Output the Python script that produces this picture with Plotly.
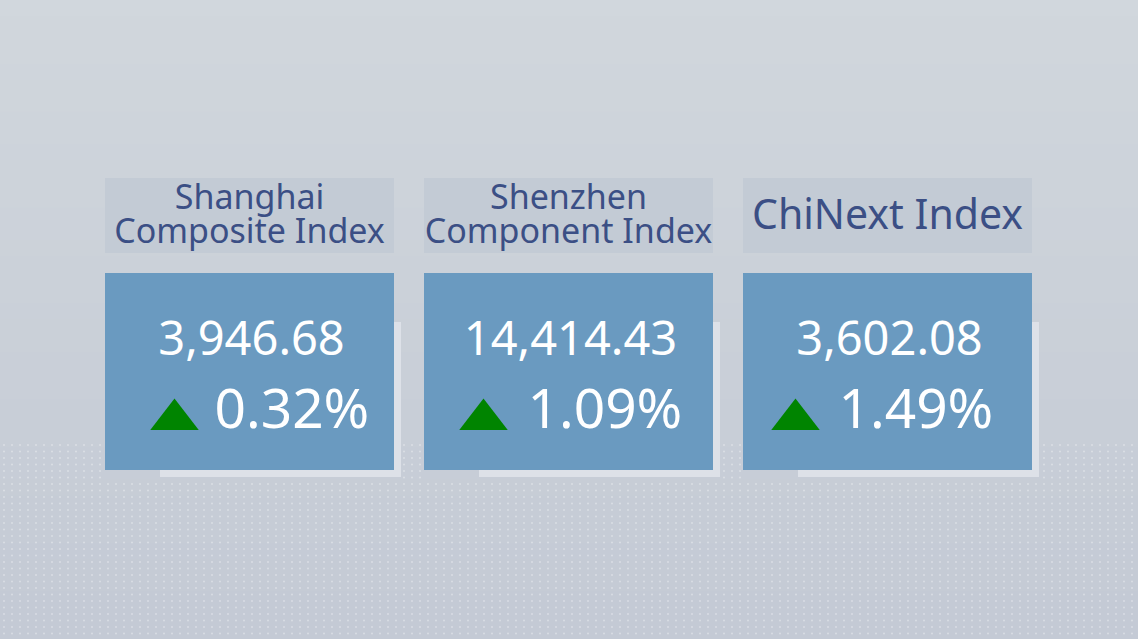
import numpy as np
import plotly.graph_objects as go

# Index snapshot data
index_names = ["Shanghai<br>Composite Index", "Shenzhen<br>Component Index", "ChiNext Index"]
index_values = ["3,946.68", "14,414.43", "3,602.08"]
pct_changes = [0.32, 1.09, 1.49]

W, H = 1138, 639

# Card layout (pixels)
card_left = [105, 424, 743]
card_w = 289
head_top, head_bot = 178, 253
box_top, box_bot = 273, 470
arrow_dx = [-75, -85, -92]   # arrow offset from card centre
pct_dx = [-35, -41, -49]     # percent text left edge offset

fig = go.Figure()
shapes = []

# Background gradient, light grey-blue at top, a bit darker at the bottom
top_rgb = np.array([209, 215, 221])
bot_rgb = np.array([196, 202, 213])
n_bands = 40
for i in range(n_bands):
    t = i / (n_bands - 1)
    c = (top_rgb * (1 - t) + bot_rgb * t).astype(int)
    shapes.append(dict(type="rect", xref="x", yref="y",
                       x0=0, x1=W, y0=i * H / n_bands, y1=(i + 1) * H / n_bands + 1,
                       fillcolor=f"rgb({c[0]},{c[1]},{c[2]})", line=dict(width=0), layer="below"))

centers = []
for left in card_left:
    cx = left + card_w / 2
    centers.append(cx)
    # header plate
    shapes.append(dict(type="rect", xref="x", yref="y", x0=left, x1=left + card_w,
                       y0=head_top, y1=head_bot, fillcolor="#c3cbd5", line=dict(width=0),
                       layer="below"))
    # pale backing plate offset behind the value box
    shapes.append(dict(type="rect", xref="x", yref="y", x0=left + 55, x1=left + card_w + 7,
                       y0=box_top + 49, y1=box_bot + 7, fillcolor="#dde1e8", line=dict(width=0),
                       layer="below"))
    # value box
    shapes.append(dict(type="rect", xref="x", yref="y", x0=left, x1=left + card_w,
                       y0=box_top, y1=box_bot, fillcolor="#6a9ac0", line=dict(width=0),
                       layer="below"))

# Faint dot texture in the lower part, kept off the cards
gx, gy = np.meshgrid(np.arange(4, W, 8), np.arange(445, H, 6.5))
gx, gy = gx.ravel(), gy.ravel()
keep = np.ones(gx.shape, dtype=bool)
for left in card_left:
    keep &= ~((gx > left - 2) & (gx < left + card_w + 9) & (gy < box_bot + 9))
fig.add_trace(go.Scatter(
    x=gx[keep], y=gy[keep], mode="markers",
    marker=dict(size=2, color="rgba(255,255,255,0.35)", line=dict(width=0)),
    hoverinfo="skip", showlegend=False
))

# Header titles (two-line titles get a tighter line spacing than plotly's default)
for name, cx in zip(index_names, centers):
    lines = name.split("<br>")
    if len(lines) == 1:
        ys, size = [219], 41
    else:
        ys, size = [200, 234], 34
    fig.add_trace(go.Scatter(
        x=[cx] * len(lines), y=ys, mode="text", text=lines,
        textfont=dict(family="Noto Sans", size=size, color="#3b4f85"),
        hoverinfo="skip", showlegend=False
    ))

# Index levels
fig.add_trace(go.Scatter(
    x=[c + 2 for c in centers], y=[343] * 3, mode="text", text=index_values,
    textfont=dict(family="Noto Sans", size=47, color="white"),
    hoverinfo="skip", showlegend=False
))

# Up arrows and percent changes
fig.add_trace(go.Scatter(
    x=[c + d for c, d in zip(centers, arrow_dx)], y=[419.5] * 3, mode="markers",
    marker=dict(symbol="triangle-up", size=42, color="#008400", line=dict(width=0)),
    hoverinfo="skip", showlegend=False
))
fig.add_trace(go.Scatter(
    x=[c + d for c, d in zip(centers, pct_dx)], y=[414] * 3, mode="text",
    text=[f"{p:.2f}%" for p in pct_changes], textposition="middle right",
    textfont=dict(family="Noto Sans", size=55, color="white"),
    hoverinfo="skip", showlegend=False
))

fig.update_layout(
    shapes=shapes,
    width=W, height=H,
    margin=dict(l=0, r=0, t=0, b=0),
    xaxis=dict(range=[0, W], visible=False, fixedrange=True),
    yaxis=dict(range=[H, 0], visible=False, fixedrange=True),
    paper_bgcolor="#cdd2db",
    plot_bgcolor="rgba(0,0,0,0)",
)

fig.write_html("out.html", config={"displayModeBar": False},
               post_script="document.body.style.margin='0';document.body.style.overflow='hidden';")
